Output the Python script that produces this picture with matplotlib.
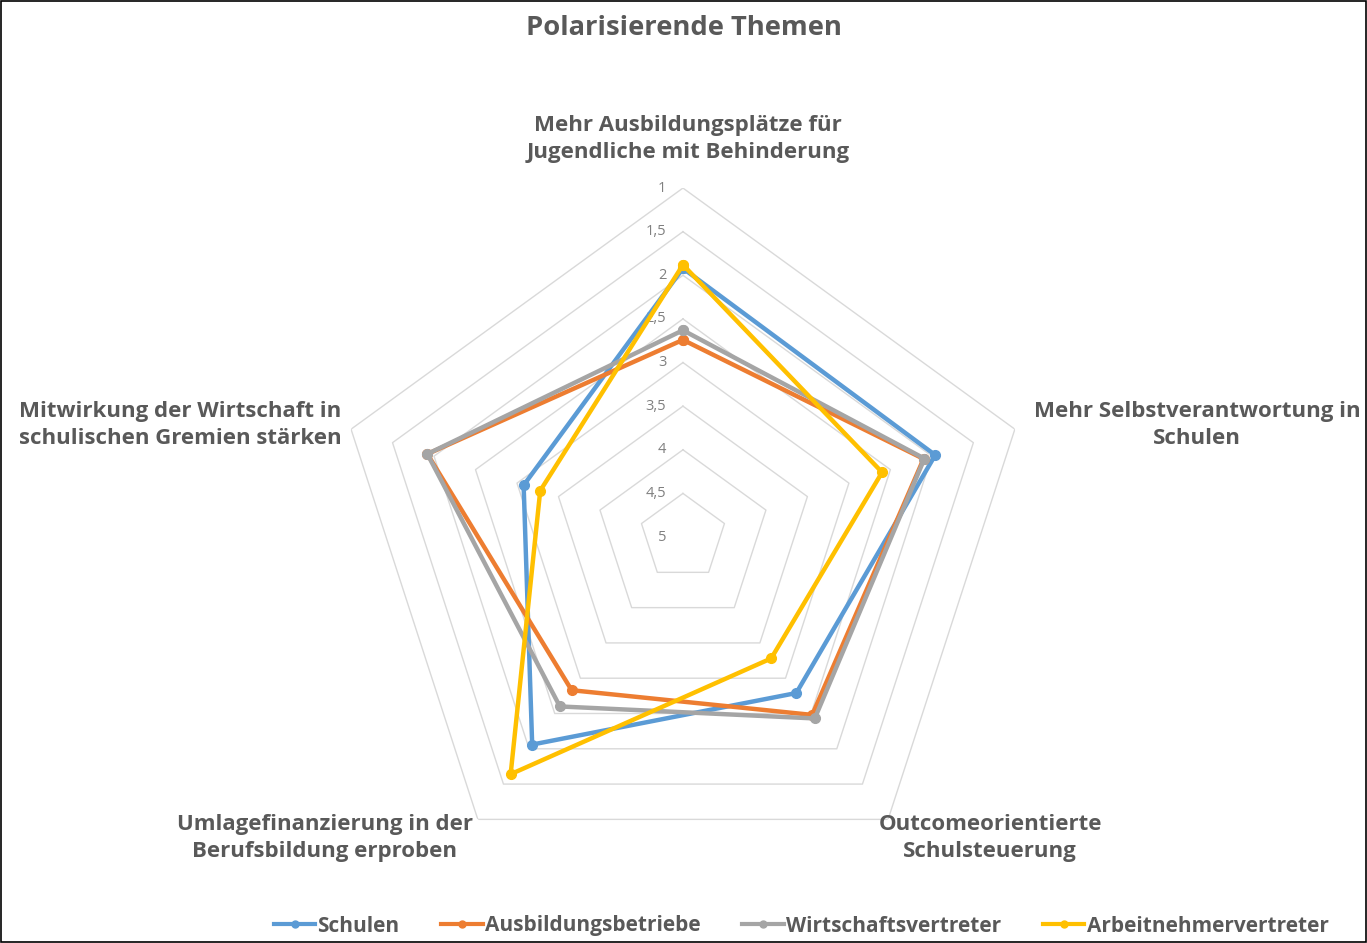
import numpy as np
import matplotlib
matplotlib.use("Agg")
import matplotlib.pyplot as plt
from matplotlib.patches import Rectangle
from matplotlib.lines import Line2D
from matplotlib.transforms import ScaledTranslation

# Data (scale 1 = outside, 5 = centre)
categories = [
    "Mehr Ausbildungsplätze für\nJugendliche mit Behinderung",
    "Mehr Selbstverantwortung in\nSchulen",
    "Outcomeorientierte\nSchulsteuerung",
    "Umlagefinanzierung in der\nBerufsbildung erproben",
    "Mitwirkung der Wirtschaft in\nschulischen Gremien stärken",
]
schulen = [1.92, 1.96, 2.79, 2.06, 3.08]
ausbildungsbetriebe = [2.74, 2.10, 2.48, 2.83, 1.92]
wirtschaftsvertreter = [2.63, 2.09, 2.43, 2.60, 1.92]
arbeitnehmervertreter = [1.88, 2.60, 3.28, 1.64, 3.28]
series_names = ["Schulen", "Ausbildungsbetriebe", "Wirtschaftsvertreter", "Arbeitnehmervertreter"]
colors = ["#5B9BD5", "#ED7D31", "#A5A5A5", "#FFC000"]
levels = [1, 1.5, 2, 2.5, 3, 3.5, 4, 4.5, 5]
level_labels = ["1", "1,5", "2", "2,5", "3", "3,5", "4", "4,5", "5"]

plt.rcParams["font.family"] = ["Open Sans", "DejaVu Sans"]
text_col = "#595959"

fig = plt.figure(figsize=(13.67, 9.43), dpi=100)
ax = fig.add_axes([0.4996 - 0.2553, 0.4305 - 0.3701, 0.5106, 0.7402], projection="polar")
ax.set_theta_offset(np.pi / 2)
ax.set_theta_direction(-1)
ax.set_ylim(5, 1)

n = len(categories)
angles = np.linspace(0, 2 * np.pi, n, endpoint=False)
closed = np.concatenate([angles, angles[:1]])

# pentagon grid
for lv in levels[:-1]:
    ax.plot(closed, [lv] * (n + 1), color="#D9D9D9", lw=1.0, zorder=1)
ax.grid(False)
ax.spines["polar"].set_visible(False)
ax.set_xticks([])
ax.set_yticks([])

# level labels left of the top axis
off = ax.transData + ScaledTranslation(-12 / 72, 0, fig.dpi_scale_trans)
for lv, lab in zip(levels, level_labels):
    ax.text(0, lv, lab, transform=off, ha="right", va="center", fontsize=10.5, color="#808080")

all_series = [schulen, ausbildungsbetriebe, wirtschaftsvertreter, arbeitnehmervertreter]
for vals, name, c in zip(all_series, series_names, colors):
    v = list(vals) + [vals[0]]
    ax.plot(closed, v, color=c, lw=3.2, marker="o", ms=7, label=name, zorder=3)

# category labels
label_pos = [(688, 139), (1197, 425), (990, 838), (325, 838), (180, 425)]
for lab, (px, py) in zip(categories, label_pos):
    fig.text(px / 1367, 1 - py / 943, lab, ha="center", va="center", fontsize=16,
             fontweight="bold", color=text_col, linespacing=1.38)

fig.text(0.5, 1 - 28 / 943, "Polarisierende Themen", ha="center", va="center",
         fontsize=19.7, fontweight="bold", color=text_col)

handles = [Line2D([0], [0], color=c, lw=3, marker="o", ms=5) for c in colors]
leg = fig.legend(handles, series_names, loc="center", bbox_to_anchor=(0.586, 1 - 926 / 943),
                 ncol=4, frameon=False, fontsize=15, handlelength=2.0, handletextpad=0.1,
                 columnspacing=2.0)
for t in leg.get_texts():
    t.set_color(text_col)
    t.set_fontweight("bold")

fig.patches.append(Rectangle((0.001, 0.001), 0.998, 0.998, transform=fig.transFigure,
                             fill=False, edgecolor="black", lw=1.2))

fig.savefig("out.png", dpi=100)
